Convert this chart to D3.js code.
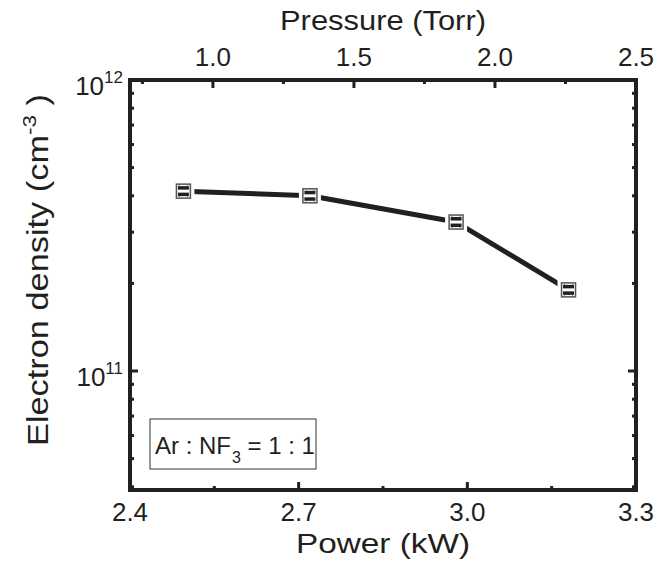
<!DOCTYPE html>
<html>
<head>
<meta charset="utf-8">
<script src="https://cdn.jsdelivr.net/npm/d3@7"></script>
<style>
  body { margin: 0; background: #fff; }
  text { font-family: "Liberation Sans", Arial, sans-serif; fill: #231f20; }
</style>
</head>
<body>
<div id="chart"></div>
<script>
// data
var power = [2.495, 2.72, 2.98, 3.18];            // kW
var density = [4.15e11, 4.0e11, 3.25e11, 1.9e11]; // cm^-3
var powerTicks = [2.4, 2.7, 3.0, 3.3];
var pressureTicks = [1.0, 1.5, 2.0, 2.5];
var densityTicks = [1e11, 1e12];
var legendText = "Ar : NF";

var margin = {top: 80, right: 36, bottom: 72, left: 130},
    width = 672 - margin.left - margin.right,
    height = 562 - margin.top - margin.bottom;

var ink = "#231f20";

var svg = d3.select("#chart")
  .append("svg")
    .attr("width", width + margin.left + margin.right)
    .attr("height", height + margin.top + margin.bottom)
  .append("g")
    .attr("transform", "translate(" + margin.left + "," + margin.top + ")");

var x = d3.scaleLinear().domain([2.4, 3.3]).range([0, width]);
var xTop = d3.scaleLinear().domain([0.706, 2.5]).range([0, width]);
var y = d3.scaleLog().domain([3.9e10, 1e12]).range([height, 0]);

// inward ticks on each side
function tickLines(g, vals, fn, len, side) {
  g.selectAll(null).data(vals).enter().append("line")
    .attr("stroke", ink).attr("stroke-width", 3)
    .each(function(d) {
      var s = d3.select(this), p = fn(d);
      if (side === "bottom") s.attr("x1", p).attr("x2", p).attr("y1", height).attr("y2", height - len);
      if (side === "top") s.attr("x1", p).attr("x2", p).attr("y1", 0).attr("y2", len);
      if (side === "left") s.attr("y1", p).attr("y2", p).attr("x1", 0).attr("x2", len);
      if (side === "right") s.attr("y1", p).attr("y2", p).attr("x1", width).attr("x2", width - len);
    });
}

var ticksG = svg.append("g");
tickLines(ticksG, powerTicks, x, 8, "bottom");
tickLines(ticksG, [2.55, 2.85, 3.15], x, 4, "bottom");
tickLines(ticksG, pressureTicks, xTop, 8, "top");
tickLines(ticksG, [0.75, 1.25, 1.75, 2.25], xTop, 4, "top");
var minorY = [];
[1e10, 1e11].forEach(function(b) {
  for (var k = 2; k <= 9; k++) {
    var v = b * k;
    if (v > y.domain()[0] && v < 1e12) minorY.push(v);
  }
});
tickLines(ticksG, densityTicks, y, 8, "left");
tickLines(ticksG, minorY, y, 4, "left");
tickLines(ticksG, densityTicks, y, 8, "right");
tickLines(ticksG, minorY, y, 4, "right");

// frame
svg.append("rect")
  .attr("width", width).attr("height", height)
  .attr("fill", "none").attr("stroke", ink).attr("stroke-width", 4);

// tick labels
svg.selectAll(".xl").data(powerTicks).enter().append("text")
  .attr("x", function(d) { return x(d); })
  .attr("y", height + 31)
  .attr("text-anchor", "middle")
  .style("font-size", "26px")
  .text(function(d) { return d.toFixed(1); });

svg.selectAll(".xt").data(pressureTicks).enter().append("text")
  .attr("x", function(d) { return xTop(d); })
  .attr("y", -14)
  .attr("text-anchor", "middle")
  .style("font-size", "26px")
  .text(function(d) { return d.toFixed(1); });

var yl = svg.selectAll(".yl").data(densityTicks).enter().append("text")
  .attr("x", -7)
  .attr("y", function(d) { return y(d) + 15; })
  .attr("text-anchor", "end")
  .style("font-size", "26px");
yl.append("tspan").text("10");
yl.append("tspan").attr("dy", -12).style("font-size", "17px")
  .text(function(d) { return Math.round(Math.log10(d)); });

// axis titles
svg.append("text")
  .attr("x", width / 2).attr("y", height + 63)
  .attr("text-anchor", "middle").style("font-size", "27px")
  .attr("textLength", 174).attr("lengthAdjust", "spacingAndGlyphs")
  .text("Power (kW)");
svg.append("text")
  .attr("x", width / 2).attr("y", -50)
  .attr("text-anchor", "middle").style("font-size", "27px")
  .attr("textLength", 206).attr("lengthAdjust", "spacingAndGlyphs")
  .text("Pressure (Torr)");
var yt = svg.append("text")
  .attr("transform", "translate(-82,190)rotate(-90)")
  .attr("text-anchor", "middle").style("font-size", "29px")
  .attr("textLength", 352).attr("lengthAdjust", "spacingAndGlyphs");
yt.append("tspan").text("Electron density (cm");
yt.append("tspan").attr("dy", -12).style("font-size", "19px").text("-3");
yt.append("tspan").attr("dy", 12).text(" )");

// data line
var pts = power.map(function(p, i) { return [x(p), y(density[i])]; });
svg.append("path")
  .attr("d", d3.line()(pts))
  .attr("fill", "none").attr("stroke", ink).attr("stroke-width", 5)
  .attr("stroke-linejoin", "round");

// markers: open square with small error caps
var m = svg.selectAll(".mk").data(pts).enter().append("g")
  .attr("transform", function(d) { return "translate(" + d[0] + "," + d[1] + ")"; });
m.append("rect").attr("x", -11).attr("y", -11).attr("width", 22).attr("height", 22).attr("fill", "#fff");
m.append("rect").attr("x", -7).attr("y", -7).attr("width", 14).attr("height", 14)
  .attr("fill", "#fff").attr("stroke", "#555").attr("stroke-width", 1.5);
m.append("rect").attr("x", -5.5).attr("y", -5).attr("width", 11).attr("height", 3.5).attr("fill", ink);
m.append("rect").attr("x", -5.5).attr("y", 1.5).attr("width", 11).attr("height", 3.5).attr("fill", ink);
[[-4, -6, -5], [4, -6, -5], [-4, 5, 6], [4, 5, 6]].forEach(function(s) {
  m.append("line").attr("x1", s[0]).attr("x2", s[0]).attr("y1", s[1]).attr("y2", s[2])
    .attr("stroke", "#777").attr("stroke-width", 1);
});

// legend box
var lg = svg.append("g").attr("transform", "translate(20,339)");
lg.append("rect").attr("width", 166).attr("height", 50)
  .attr("fill", "#fff").attr("stroke", "#555").attr("stroke-width", 1.2);
var lt = lg.append("text").attr("x", 5).attr("y", 35).style("font-size", "24px");
lt.append("tspan").text(legendText);
lt.append("tspan").attr("dx", 1).attr("dy", 9).style("font-size", "16px").text("3");
lt.append("tspan").attr("dy", -9).text(" = 1 : 1");
</script>
</body>
</html>
